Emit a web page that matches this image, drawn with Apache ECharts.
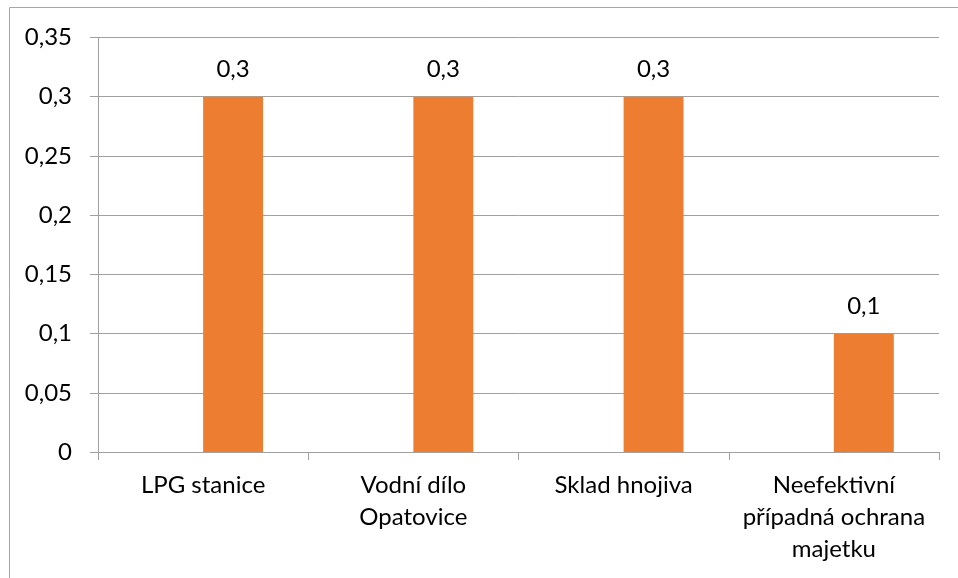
<!DOCTYPE html>
<html>
<head>
<meta charset="utf-8">
<script src="https://cdn.jsdelivr.net/npm/echarts@6/dist/echarts.min.js"></script>
<style>
  html, body { margin: 0; padding: 0; background: #fff; }
  #chart { width: 958px; height: 578px; }
</style>
</head>
<body>
<div id="chart"></div>
<script>
// Categories (wrapped as in the original layout)
const categories = [
  'LPG stanice',
  'Vodní dílo\nOpatovice',
  'Sklad hnojiva',
  'Neefektivní\npřípadná ochrana\nmajetku'
];
// Empty first series keeps the bars in the right half of each slot
const seriesEmpty = [null, null, null, null];
const seriesValues = [0.3, 0.3, 0.3, 0.1];
const yTicks = { min: 0, max: 0.35, interval: 0.05 };

const FONT = 'Lato';
const fmt = v => String(+(+v).toFixed(2)).replace('.', ',');

const chart = echarts.init(document.getElementById('chart'));
chart.setOption({
  backgroundColor: '#fff',
  animation: false,
  textStyle: { fontFamily: FONT },
  graphic: [{
    type: 'rect',
    shape: { x: 9.5, y: 7.5, width: 960, height: 580 },
    style: { fill: 'none', stroke: '#a6a6a6', lineWidth: 1 },
    silent: true
  }],
  grid: { left: 98, right: 19, top: 37.5, bottom: 126, containLabel: false },
  xAxis: {
    type: 'category',
    data: categories,
    axisLine: { show: true, lineStyle: { color: '#a0a0a0', width: 1 } },
    axisTick: { show: true, length: 8, lineStyle: { color: '#a0a0a0' } },
    axisLabel: {
      color: '#000', fontFamily: FONT, fontSize: 24, lineHeight: 32,
      margin: 17, interval: 0
    },
    splitLine: { show: false }
  },
  yAxis: {
    type: 'value',
    min: yTicks.min, max: yTicks.max, interval: yTicks.interval,
    axisLine: { show: true, lineStyle: { color: '#a0a0a0', width: 1 } },
    axisTick: { show: true, length: 8, lineStyle: { color: '#a0a0a0' } },
    axisLabel: {
      color: '#000', fontFamily: FONT, fontSize: 24, margin: 26,
      formatter: fmt
    },
    splitLine: { show: true, lineStyle: { color: '#a0a0a0', width: 1 } }
  },
  series: [
    {
      type: 'bar', data: seriesEmpty,
      barGap: '0%', barCategoryGap: '43%',
      itemStyle: { color: '#4472C4' }
    },
    {
      type: 'bar', data: seriesValues,
      barGap: '0%', barCategoryGap: '43%',
      itemStyle: { color: '#ED7D31' },
      label: {
        show: true, position: 'top', distance: 15,
        color: '#000', fontFamily: FONT, fontSize: 24,
        formatter: p => fmt(p.value)
      }
    }
  ]
});
</script>
</body>
</html>
